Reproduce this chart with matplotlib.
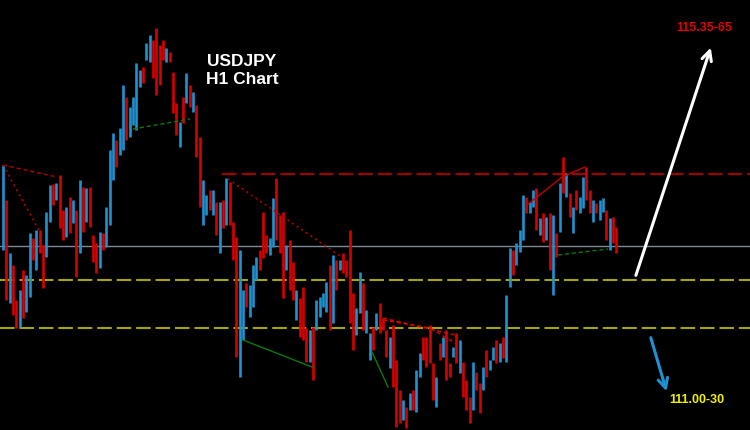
import numpy as np
import matplotlib
matplotlib.use('Agg')
import matplotlib.pyplot as plt

plt.rcParams['lines.scale_dashes'] = False

# USDJPY H1 candles (high / low per bar, u = up bar, d = down bar)
highs = [113.15, 112.80, 112.27, 112.15, 111.80, 111.90, 112.10, 112.05, 112.47, 112.42,
         112.50, 112.50, 112.35, 112.68, 112.95, 112.96, 112.97, 113.05, 112.70, 112.73,
         112.83, 112.80, 112.70, 113.00, 112.93, 112.92, 112.93, 112.45, 112.37, 112.48,
         112.47, 112.73, 113.30, 113.47, 113.40, 113.52, 113.95, 113.83, 113.73, 113.83,
         114.17, 114.10, 114.13, 114.37, 114.45, 114.40, 114.52, 114.35, 114.40, 114.32,
         114.28, 114.08, 113.77, 113.58, 113.83, 114.07, 113.95, 113.88, 113.75, 113.43,
         113.00, 112.85, 112.90, 112.90, 112.78, 112.78, 112.80, 113.02, 112.98, 112.58,
         112.43, 112.30, 111.90, 111.97, 111.95, 112.15, 112.23, 112.30, 112.68, 112.45,
         112.42, 112.82, 113.02, 112.65, 112.68, 112.35, 112.40, 112.18, 111.90, 111.82,
         111.93, 111.52, 111.50, 111.53, 111.80, 111.83, 111.87, 111.98, 112.15, 112.25,
         112.20, 112.20, 112.27, 112.20, 112.50, 111.87, 111.72, 112.08, 111.97, 111.70,
         111.47, 111.53, 111.67, 111.77, 111.62, 111.50, 111.43, 111.55, 111.20, 110.90,
         110.80, 110.73, 110.87, 110.90, 111.10, 111.27, 111.43, 111.43, 111.55, 111.17,
         111.03, 111.37, 111.43, 111.50, 111.17, 111.33, 111.47, 111.40, 111.18, 111.00,
         110.83, 111.18, 111.08, 110.97, 111.13, 111.30, 111.20, 111.33, 111.40, 111.37,
         111.43, 111.85, 112.32, 112.30, 112.37, 112.50, 112.85, 112.83, 112.78, 112.90,
         112.92, 112.62, 112.67, 112.63, 112.67, 112.65, 112.47, 112.97, 113.23, 113.07,
         112.87, 112.73, 112.90, 112.83, 113.03, 113.13, 112.90, 112.80, 112.77, 112.80,
         112.82, 112.70, 112.62, 112.63, 112.53]
lows = [112.30, 111.80, 111.77, 111.65, 111.52, 111.53, 111.62, 111.68, 111.83, 112.20,
        112.10, 112.27, 111.92, 112.23, 112.58, 112.75, 112.80, 112.52, 112.40, 112.43,
        112.47, 112.57, 112.03, 112.27, 112.48, 112.58, 112.53, 112.18, 112.07, 112.12,
        112.30, 112.33, 112.55, 113.00, 113.13, 113.25, 113.30, 113.40, 113.43, 113.55,
        113.50, 113.93, 113.97, 114.20, 114.18, 114.02, 113.85, 113.95, 114.20, 114.18,
        114.18, 113.67, 113.45, 113.33, 113.57, 113.77, 113.73, 113.68, 113.23, 112.73,
        112.55, 112.65, 112.70, 112.65, 112.45, 112.27, 112.52, 112.55, 112.55, 112.20,
        111.23, 111.03, 111.40, 111.73, 111.63, 111.73, 112.00, 112.10, 112.22, 112.27,
        112.25, 112.33, 112.40, 112.27, 111.82, 112.10, 111.90, 111.80, 111.60, 111.43,
        111.40, 111.18, 111.18, 111.00, 111.50, 111.63, 111.73, 111.68, 111.50, 111.57,
        111.90, 112.10, 112.07, 112.03, 111.57, 111.30, 111.45, 111.67, 111.50, 111.47,
        111.20, 111.30, 111.50, 111.47, 111.50, 111.23, 111.12, 110.93, 110.53, 110.57,
        110.60, 110.52, 110.70, 110.70, 110.68, 111.03, 111.20, 111.13, 111.17, 110.80,
        110.73, 111.20, 111.23, 111.00, 111.03, 111.23, 111.17, 111.07, 110.83, 110.70,
        110.57, 110.70, 110.90, 110.67, 110.90, 111.03, 111.10, 111.20, 111.17, 111.18,
        111.22, 111.18, 111.93, 112.05, 112.15, 112.28, 112.40, 112.67, 112.67, 112.73,
        112.50, 112.45, 112.38, 112.40, 112.10, 111.85, 112.23, 112.48, 112.87, 112.83,
        112.63, 112.47, 112.70, 112.67, 112.72, 112.80, 112.67, 112.58, 112.67, 112.60,
        112.68, 112.40, 112.30, 112.37, 112.27]
moves = ('ududduduud' 'udduududdu' 'dudududddu' 'duuuduuduu'
         'uuduuddddu' 'dddudududd' 'uududududd' 'duuduuuddd' 'uuddduddud'
         'dduduuuudu' 'dudddduudu' 'ududdduddd' 'ududuudddd' 'ududdududd'
         'dudduduudu' 'duuduuuduu' 'dududududu' 'duduuddudu' 'ududd')

# horizontal levels
level_red = 113.06
level_red_from = 65.7
level_gray = 112.34
levels_yellow = [112.00, 111.52]

# drawn trend lines: (bar, price) points
red_dash_pts = [(0, 113.15), (16.2, 113.03)]
red_dot_pts = [[(0, 113.15), (11.1, 112.48)], [(67.5, 113.01), (102, 112.22)]]
red_dash2_pts = [[(114, 111.62), (135.6, 111.45)],
                 [(114, 111.60), (128.1, 111.52), (135.6, 111.37)]]
red_solid_pts = [(157.2, 112.75), (167.7, 113.03), (174.6, 113.13)]
green_dash_pts = [[(39, 113.51), (56.1, 113.61)], [(166.5, 112.25), (181.5, 112.31)]]
green_solid_pts = [[(72, 111.40), (92.7, 111.13)], [(110.7, 111.28), (115.5, 110.93)]]

# projection arrows and targets
up_arrow = [(189.6, 112.02), (212.6, 114.35)]
down_arrow = [(194.1, 111.45), (199.3, 110.86)]
up_target = ('115.35-65', 210.3, 114.52)
down_target = ('111.00-30', 208.2, 110.80)

fig = plt.figure(figsize=(7.5, 4.3), dpi=100)
fig.patch.set_facecolor('black')
ax = fig.add_axes([0, 0, 1, 1])
ax.set_facecolor('black')
ax.set_xlim(-0.9, 224.1)
ax.set_ylim(110.50, 114.80)
ax.axis('off')

x = np.arange(len(highs))
cols = ['#1e93d2' if m == 'u' else '#d80000' for m in moves]
ax.vlines(x, lows, highs, colors=cols, lw=1.9, zorder=3)

ax.axhline(level_gray, color='#7d8a96', lw=1.0, zorder=2)
for lv in levels_yellow:
    ax.axhline(lv, color='#a5a500', lw=1.5, dashes=(10.5, 3.5), zorder=2)
ax.plot([level_red_from, 230], [level_red, level_red], color='#a00000', lw=1.5,
        dashes=(10.5, 3.5), zorder=2)

def pl(pts, **kw):
    ax.plot([p[0] for p in pts], [p[1] for p in pts], zorder=4, **kw)

pl(red_dash_pts, color='#b00000', lw=1.0, dashes=(3, 2))
for pts in red_dot_pts:
    pl(pts, color='#b00000', lw=1.2, dashes=(1.5, 2.5))
for pts in red_dash2_pts:
    pl(pts, color='#e00000', lw=1.0, dashes=(3, 2))
pl(red_solid_pts, color='#c00000', lw=1.0)
for pts in green_dash_pts:
    pl(pts, color='#0b7a0b', lw=1.0, dashes=(3, 2))
for pts in green_solid_pts:
    pl(pts, color='#0b7a0b', lw=1.0)

ax.annotate('', xy=up_arrow[1], xytext=up_arrow[0],
            arrowprops=dict(arrowstyle='->,head_length=0.7,head_width=0.35',
                            color='white', lw=2.2))
ax.annotate('', xy=down_arrow[1], xytext=down_arrow[0],
            arrowprops=dict(arrowstyle='->,head_length=0.7,head_width=0.35',
                            color='#1e93d2', lw=2.2))

ax.text(up_target[1], up_target[2], up_target[0], color='#e00000', fontsize=9,
        fontweight='bold', family='Liberation Sans', ha='center', va='center')
ax.text(down_target[1], down_target[2], down_target[0], color='#f0f000', fontsize=9,
        fontweight='bold', family='Liberation Sans', ha='center', va='center')

ax.text(71.7, 114.19, 'USDJPY', color='white', fontsize=12.5, fontweight='bold',
        family='Liberation Sans', ha='center', va='center')
ax.text(71.7, 114.00, 'H1 Chart', color='white', fontsize=12.5, fontweight='bold',
        family='Liberation Sans', ha='center', va='center')

fig.savefig('out.png', dpi=100, facecolor='black')
